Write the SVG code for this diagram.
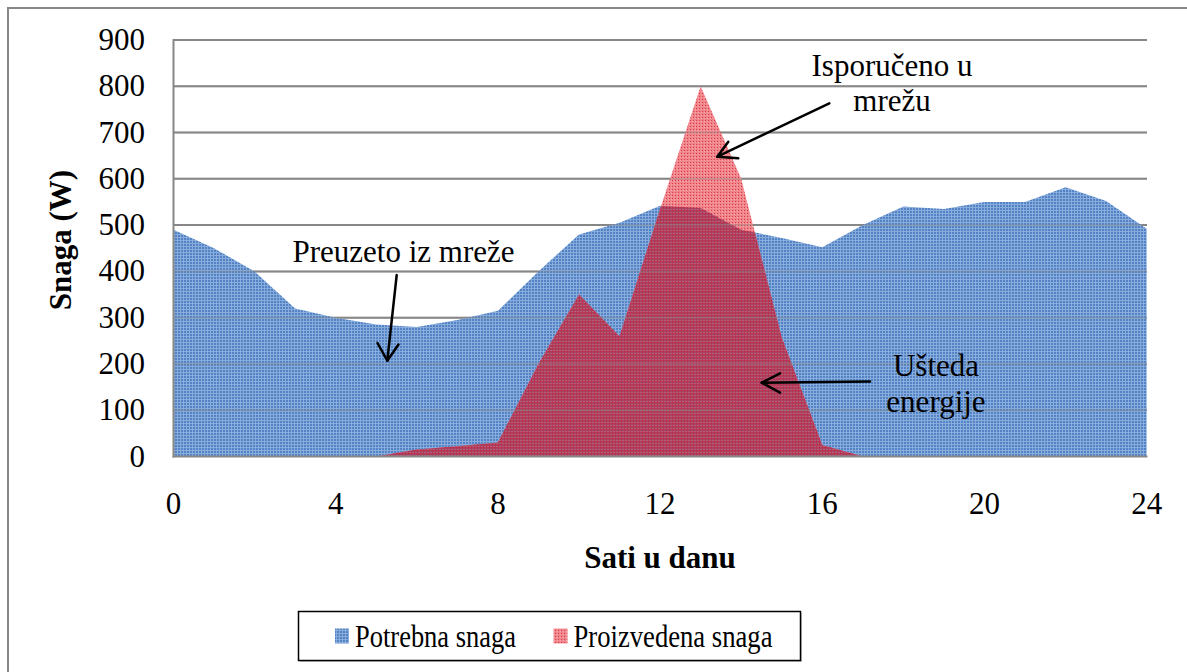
<svg xmlns="http://www.w3.org/2000/svg" width="1187" height="672" viewBox="0 0 1187 672">
<style>
.t{font-family:"Liberation Serif","Times New Roman",serif;font-size:31px;fill:#000}
.b{font-weight:bold}
.grid{stroke:#878787;stroke-width:2;fill:none}
.arr{stroke:#000;stroke-width:2.5;fill:none;stroke-linecap:round;stroke-linejoin:round}
</style>
<defs>
<pattern id="pb" width="3" height="3" patternUnits="userSpaceOnUse">
<rect width="3" height="3" fill="#5383C4"/>
<rect width="3" height="1" fill="#88ACDC"/>
<rect width="1" height="3" fill="#88ACDC"/>
</pattern>
<pattern id="pr" width="3" height="3" patternUnits="userSpaceOnUse">
<rect width="3" height="3" fill="#F0868C"/>
<rect width="1" height="1" fill="#D83A48"/>
<rect x="2" y="1" width="1" height="1" fill="#F6A8AC"/>
</pattern>
<pattern id="prd" width="3" height="3" patternUnits="userSpaceOnUse">
<rect width="3" height="3" fill="#A8405E"/>
<rect width="1" height="1" fill="#D8203A"/>
<rect x="1" y="2" width="2" height="1" fill="#B85A78"/>
</pattern>
<clipPath id="blueclip">
<polygon points="173.5,456.5 173.5,229.7 214.05,248.2 254.6,271.4 295.15,308.4 335.7,317.7 376.25,324.6 416.8,326.9 457.35,320.0 497.9,310.7 538.45,271.4 579,234.4 619.55,222.8 660.1,205.7 700.65,208.0 741.2,229.7 781.75,238.0 822.3,247.3 862.85,225.1 903.4,206.6 943.95,208.9 984.5,202.0 1025.05,202.0 1065.6,187.2 1106.15,201.0 1146.7,228.8 1146.7,456.5"/>
</clipPath>
</defs>
<rect x="0" y="0" width="1187" height="672" fill="#fff"/>
<rect x="8" y="8" width="1200" height="700" fill="#fff" stroke="#878787" stroke-width="2"/>
<g id="gridlines" class="grid">
<line x1="173.5" y1="40" x2="1147" y2="40"/>
<line x1="173.5" y1="86.3" x2="1147" y2="86.3"/>
<line x1="173.5" y1="132.5" x2="1147" y2="132.5"/>
<line x1="173.5" y1="178.8" x2="1147" y2="178.8"/>
<line x1="173.5" y1="225.1" x2="1147" y2="225.1"/>
<line x1="173.5" y1="271.4" x2="1147" y2="271.4"/>
<line x1="173.5" y1="317.7" x2="1147" y2="317.7"/>
<line x1="173.5" y1="363.9" x2="1147" y2="363.9"/>
<line x1="173.5" y1="410.2" x2="1147" y2="410.2"/>
</g>
<g id="series-potrebna">
<polygon fill="url(#pb)" points="173.5,456.5 173.5,229.7 214.05,248.2 254.6,271.4 295.15,308.4 335.7,317.7 376.25,324.6 416.8,326.9 457.35,320.0 497.9,310.7 538.45,271.4 579,234.4 619.55,222.8 660.1,205.7 700.65,208.0 741.2,229.7 781.75,238.0 822.3,247.3 862.85,225.1 903.4,206.6 943.95,208.9 984.5,202.0 1025.05,202.0 1065.6,187.2 1106.15,201.0 1146.7,228.8 1146.7,456.5"/>
</g>
<g id="series-proizvedena">
<polygon fill="url(#pr)" points="376.25,456.5 416.8,449.6 457.35,446.3 497.9,442.6 538.45,363.9 579,294.5 619.55,336.2 660.1,208.9 700.65,86.3 741.2,178.8 781.75,337.5 822.3,444.9 862.85,456.5"/>
<polygon fill="url(#prd)" clip-path="url(#blueclip)" points="376.25,456.5 416.8,449.6 457.35,446.3 497.9,442.6 538.45,363.9 579,294.5 619.55,336.2 660.1,208.9 700.65,86.3 741.2,178.8 781.75,337.5 822.3,444.9 862.85,456.5"/>
</g>
<g id="gridlines-over" class="grid" opacity="0.35">
<line x1="173.5" y1="86.3" x2="1147" y2="86.3"/>
<line x1="173.5" y1="132.5" x2="1147" y2="132.5"/>
<line x1="173.5" y1="178.8" x2="1147" y2="178.8"/>
<line x1="173.5" y1="225.1" x2="1147" y2="225.1"/>
<line x1="173.5" y1="271.4" x2="1147" y2="271.4"/>
<line x1="173.5" y1="317.7" x2="1147" y2="317.7"/>
<line x1="173.5" y1="363.9" x2="1147" y2="363.9"/>
<line x1="173.5" y1="410.2" x2="1147" y2="410.2"/>
</g>
<g id="axes" class="grid">
<line x1="173.5" y1="39" x2="173.5" y2="457.5"/>
<line x1="172.5" y1="456.5" x2="1147.5" y2="456.5"/>
</g>
<g id="y-labels" class="t" text-anchor="end">
<text x="145" y="50">900</text>
<text x="145" y="96.3">800</text>
<text x="145" y="142.5">700</text>
<text x="145" y="188.8">600</text>
<text x="145" y="235.1">500</text>
<text x="145" y="281.4">400</text>
<text x="145" y="327.7">300</text>
<text x="145" y="373.9">200</text>
<text x="145" y="420.2">100</text>
<text x="145" y="466.5">0</text>
</g>
<g id="x-labels" class="t" text-anchor="middle">
<text x="173.5" y="514">0</text>
<text x="335.7" y="514">4</text>
<text x="497.9" y="514">8</text>
<text x="660.1" y="514">12</text>
<text x="822.3" y="514">16</text>
<text x="984.5" y="514">20</text>
<text x="1146.7" y="514">24</text>
</g>
<text id="x-title" class="t b" x="660" y="568" text-anchor="middle">Sati u danu</text>
<text id="y-title" class="t b" text-anchor="middle" transform="translate(71,240) rotate(-90)">Snaga (W)</text>
<g id="label-preuzeto">
<text class="t" x="403.5" y="262" text-anchor="middle">Preuzeto iz mreže</text>
</g>
<g id="label-isporuceno">
<text class="t" x="892" y="76" text-anchor="middle">Isporučeno u</text>
<text class="t" x="892" y="111" text-anchor="middle">mrežu</text>
</g>
<g id="label-usteda">
<text class="t" x="936" y="376" text-anchor="middle">Ušteda</text>
<text class="t" x="936" y="412" text-anchor="middle">energije</text>
</g>
<g id="connectors" class="arr">
<path d="M396.7,275 L387.3,360.7"/>
<path d="M377.5,343 L387.3,360.7 L398.5,344.5"/>
<path d="M829.3,103.3 L717.3,156.7"/>
<path d="M728.3,141.7 L717.3,156.7 L738.3,158.3"/>
<path d="M870,381.5 L761.7,382.7"/>
<path d="M780,373.3 L761.7,382.7 L780,392.7"/>
</g>
<g id="legend">
<rect x="300" y="613" width="502" height="49" fill="#c8c8c8"/>
<rect x="298.5" y="611.5" width="502" height="49" fill="#fff" stroke="#000" stroke-width="1.5"/>
<rect x="335" y="628.5" width="14" height="15" fill="url(#pb)"/>
<text class="t" x="355" y="646.5" textLength="161" lengthAdjust="spacingAndGlyphs">Potrebna snaga</text>
<rect x="553.5" y="628.5" width="14" height="15" fill="url(#pr)"/>
<text class="t" x="573.5" y="646.5" textLength="199" lengthAdjust="spacingAndGlyphs">Proizvedena snaga</text>
</g>
</svg>
